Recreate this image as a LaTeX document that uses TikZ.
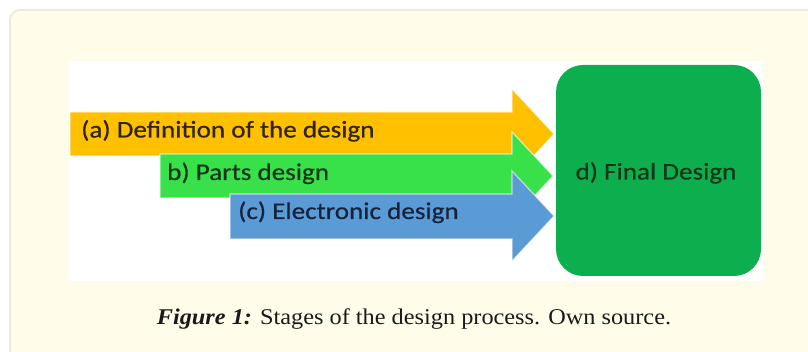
\documentclass[tikz,border=0pt]{standalone}
\usepackage{fontspec}
\newfontfamily\calib[FakeStretch=1.13, FakeBold=0.5]{Carlito}
\newfontfamily\capfont[FakeStretch=1.08]{Liberation Serif}
\definecolor{cream}{HTML}{FFFCEA}
\definecolor{framegray}{HTML}{EEEBDB}
\definecolor{ayellow}{HTML}{FFC000}
\definecolor{agreen}{HTML}{38E04A}
\definecolor{ablue}{HTML}{5B9BD5}
\definecolor{boxgreen}{HTML}{0DAE4D}
\definecolor{tyellow}{HTML}{2E2410}
\definecolor{tgreen}{HTML}{12361A}
\definecolor{tblue}{HTML}{14223C}
\definecolor{capink}{HTML}{1A1A1A}
\tikzset{
  arrowshape/.style={draw=white, draw opacity=0.6, line width=1.2pt, line join=miter},
  arrowtext/.style={anchor=base west, inner sep=0pt, font=\calib\fontsize{24}{28}\selectfont},
}
\begin{document}
\begin{tikzpicture}[x=1pt,y=-1pt]
\useasboundingbox (0,0) rectangle (808,352);
\clip (0,0) rectangle (808,352);
% page frame
\path[fill=cream, draw=framegray, line width=2pt, rounded corners=10pt] (10,10) rectangle (830,380);
% white figure panel
\path[fill=white] (69,61) rectangle (763,281);
% arrows
\path[arrowshape, fill=ayellow] (70,112) -- (512,112) -- (512,89) -- (554,134) -- (512,179) -- (512,156) -- (70,156) -- cycle;
\path[arrowshape, fill=agreen] (160,154) -- (512,154) -- (512,132) -- (553,176) -- (512,220) -- (512,198) -- (160,198) -- cycle;
\path[arrowshape, fill=ablue] (230,194) -- (512,194) -- (512,171) -- (554,216) -- (512,261) -- (512,239) -- (230,239) -- cycle;
% final design box
\node[fill=boxgreen, rounded corners=27pt, minimum width=205pt, minimum height=211pt, inner sep=0pt] (final) at (658.5,170.5) {};
\node[anchor=base, inner sep=0pt, font=\calib\fontsize{24}{28}\selectfont, text=tgreen] (finaltext) at (656,179.5) {d) Final Design};
% arrow labels
\node[arrowtext, text=tyellow] (ta) at (81,137.5) {(a) Definition of the design};
\node[arrowtext, text=tgreen] (tb) at (167,180) {b) Parts design};
\node[arrowtext, text=tblue] (tc) at (238,219) {(c) Electronic design};
% caption
\node[anchor=base, inner sep=0pt, font=\capfont\fontsize{22.5}{26}\selectfont, text=capink] (caption) at (414,324.5) {\textbf{\textit{Figure 1:}} Stages of the design process. Own source.};
\end{tikzpicture}
\end{document}
